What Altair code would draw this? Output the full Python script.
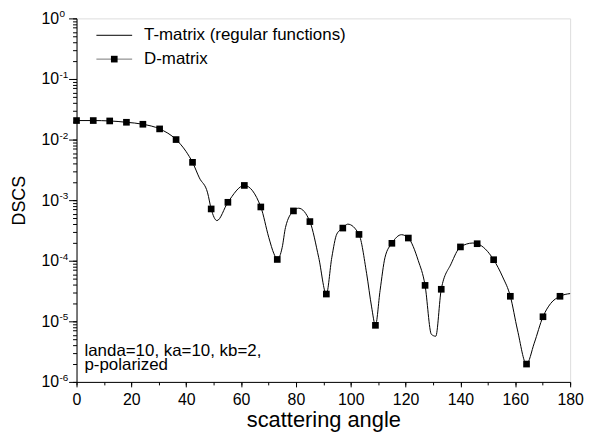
import altair as alt
import pandas as pd

# ---- data ----
# D-matrix samples (square markers)
d_angle = [0, 6.1, 12.1, 18.2, 24.2, 30.3, 36.3, 42.3, 49.1, 55.2, 61.2, 67.2,
           73.2, 79.1, 85.1, 91.1, 97.1, 103.0, 109.0, 115.0, 121.0, 127.1,
           133.0, 140.0, 146.1, 152.1, 158.2, 164.1, 170.1, 176.3]
d_dscs = [2.06e-2, 2.06e-2, 2.03e-2, 1.93e-2, 1.79e-2, 1.50e-2, 1.00e-2, 4.21e-3,
          7.16e-4, 9.22e-4, 1.75e-3, 7.72e-4, 1.05e-4, 6.64e-4, 4.43e-4, 2.82e-5,
          3.46e-4, 2.72e-4, 8.59e-6, 1.94e-4, 2.37e-4, 3.92e-5, 3.38e-5, 1.69e-4,
          1.91e-4, 1.04e-4, 2.59e-5, 1.97e-6, 1.19e-5, 2.59e-5]

# T-matrix (regular functions) continuous curve
t_angle = [0, 6.1, 12.1, 18.2, 24.2, 30.3, 36.3, 39.9, 42.3, 44.8, 47.8, 49.1,
           51.2, 55.2, 61.2, 67.2, 70.1, 72.0, 73.2, 75.0, 76.2, 79.1, 81.0,
           85.1, 88.3, 91.1, 93.1, 94.9, 97.1, 98.9, 103.0, 105.8, 107.6, 109.0,
           110.7, 112.5, 115.0, 118.5, 121.0, 124.6, 127.1, 129.4, 131.0, 133.0,
           136.6, 140.0, 144.5, 146.1, 152.1, 155.4, 158.2, 160.8, 164.1, 166.9,
           170.1, 172.9, 176.3, 180.0]
t_dscs = [2.06e-2, 2.06e-2, 2.03e-2, 1.93e-2, 1.79e-2, 1.50e-2, 1.00e-2, 6.4e-3,
          4.21e-3, 2.33e-3, 1.32e-3, 7.16e-4, 4.6e-4, 9.22e-4, 1.75e-3, 7.72e-4,
          2.43e-4, 1.30e-4, 1.05e-4, 1.66e-4, 3.54e-4, 6.64e-4, 7.36e-4, 4.43e-4,
          1.14e-4, 2.82e-5, 1.14e-4, 2.75e-4, 3.46e-4, 4.02e-4, 2.72e-4, 6.1e-5,
          1.73e-5, 8.59e-6, 3.25e-5, 1.14e-4, 1.94e-4, 2.69e-4, 2.37e-4, 1.01e-4,
          3.92e-5, 6.1e-6, 5.67e-6, 3.38e-5, 8.9e-5, 1.69e-4, 1.96e-4, 1.91e-4,
          1.04e-4, 5.4e-5, 2.59e-5, 7.2e-6, 1.97e-6, 4.35e-6, 1.19e-5, 1.97e-5,
          2.59e-5, 2.87e-5]

x_major = list(range(0, 181, 20))
x_minor = list(range(0, 181, 10))
decades = [1e-6, 1e-5, 1e-4, 1e-3, 1e-2, 1e-1, 1.0]
y_minor = [m * 10.0 ** k for k in range(-6, 0) for m in range(1, 10)] + [1.0]

legend_labels = ["T-matrix (regular functions)", "D-matrix"]
note_lines = ["landa=10, ka=10, kb=2,", "p-polarized"]

FONT = "Liberation Sans"

t_df = pd.DataFrame({"angle": t_angle, "dscs": t_dscs})
d_df = pd.DataFrame({"angle": d_angle, "dscs": d_dscs})

x_scale = alt.Scale(domain=[0, 180], nice=False)
y_scale = alt.Scale(type="log", domain=[1e-6, 1], nice=False)

# major x axis: labels + long ticks
x_axis_major = alt.Axis(
    orient="bottom", values=x_major, tickSize=5,
    labelFont=FONT, labelFontSize=16, labelPadding=5, labelColor="black",
    labelOverlap=False, labelFlush=False,
    title="scattering angle", titleFont=FONT, titleFontSize=22,
    titleFontWeight="normal", titleColor="black", titleY=45,
    titleBaseline="alphabetic",
    grid=False, domainColor="black", tickColor="black",
)
# minor x ticks
x_axis_minor = alt.Axis(
    orient="bottom", values=x_minor, tickSize=3, labels=False, domain=False,
    grid=False, title=None, tickColor="black",
)

# major y axis: "10" labels + long ticks
y_axis_major = alt.Axis(
    orient="left", values=decades, tickSize=8,
    labelExpr="'10'",
    labelFont=FONT, labelFontSize=16, labelAlign="right", labelBaseline="middle",
    labelPadding=10, labelColor="black", labelOverlap=False, labelFlush=False,
    title="DSCS", titleFont=FONT, titleFontSize=18, titleFontWeight="normal",
    titleColor="black", titleX=-52, titleY=183, titleBaseline="alphabetic",
    titleAngle=270, titleAlign="center",
    grid=False, domainColor="black", tickColor="black",
)
# minor y ticks + exponent labels
y_axis_minor = alt.Axis(
    orient="left", values=y_minor, tickSize=4, domain=False, grid=False,
    labelExpr="abs(log(datum.value)/LN10 - round(log(datum.value)/LN10)) < 0.001 ? '' + round(log(datum.value)/LN10) : ''",
    labelFont=FONT, labelFontSize=10, labelAlign="left", labelBaseline="middle",
    labelPadding=13.6, labelOffset=-4.5, labelColor="black",
    labelOverlap=False, labelFlush=False, title=None, tickColor="black",
)

line = alt.Chart(t_df).mark_line(
    color="black", strokeWidth=1, interpolate="monotone"
).encode(
    x=alt.X("angle:Q", scale=x_scale, axis=x_axis_major),
    y=alt.Y("dscs:Q", scale=y_scale, axis=y_axis_major),
)

points = alt.Chart(d_df).mark_point(
    shape="square", filled=True, size=45, color="black", opacity=1
).encode(
    x=alt.X("angle:Q", scale=x_scale, axis=x_axis_minor),
    y=alt.Y("dscs:Q", scale=y_scale, axis=y_axis_minor),
)

one = alt.Data(values=[{}])

leg_line1 = alt.Chart(one).mark_rule(color="black", strokeWidth=1).encode(
    x=alt.value(20), x2=alt.value(56), y=alt.value(17))
leg_text1 = alt.Chart(one).mark_text(
    text=legend_labels[0], font=FONT, fontSize=17, align="left",
    baseline="middle", color="black").encode(x=alt.value(68), y=alt.value(17))
leg_line2 = alt.Chart(one).mark_rule(color="#777777", strokeWidth=1).encode(
    x=alt.value(20), x2=alt.value(56), y=alt.value(41))
leg_sq = alt.Chart(one).mark_point(
    shape="square", filled=True, size=45, color="black", opacity=1).encode(
    x=alt.value(38), y=alt.value(41))
leg_text2 = alt.Chart(one).mark_text(
    text=legend_labels[1], font=FONT, fontSize=17, align="left",
    baseline="middle", color="black").encode(x=alt.value(68), y=alt.value(41))

note1 = alt.Chart(one).mark_text(
    text=note_lines[0], font=FONT, fontSize=17, align="left",
    baseline="alphabetic", color="black").encode(x=alt.value(8), y=alt.value(339.5))
note2 = alt.Chart(one).mark_text(
    text=note_lines[1], font=FONT, fontSize=17, align="left",
    baseline="alphabetic", color="black").encode(x=alt.value(8), y=alt.value(354.5))

chart = alt.layer(
    line, points, leg_line1, leg_text1, leg_line2, leg_sq, leg_text2, note1, note2
).resolve_axis(x="independent", y="independent").properties(
    width=497, height=366,
    autosize=alt.AutoSizeParams(type="none"),
    padding={"left": 69, "top": 9, "right": 20, "bottom": 54},
).configure_view(stroke="black", strokeWidth=1).configure(background="white")

chart.save("out.html", embed_options={"renderer": "svg", "actions": False})
